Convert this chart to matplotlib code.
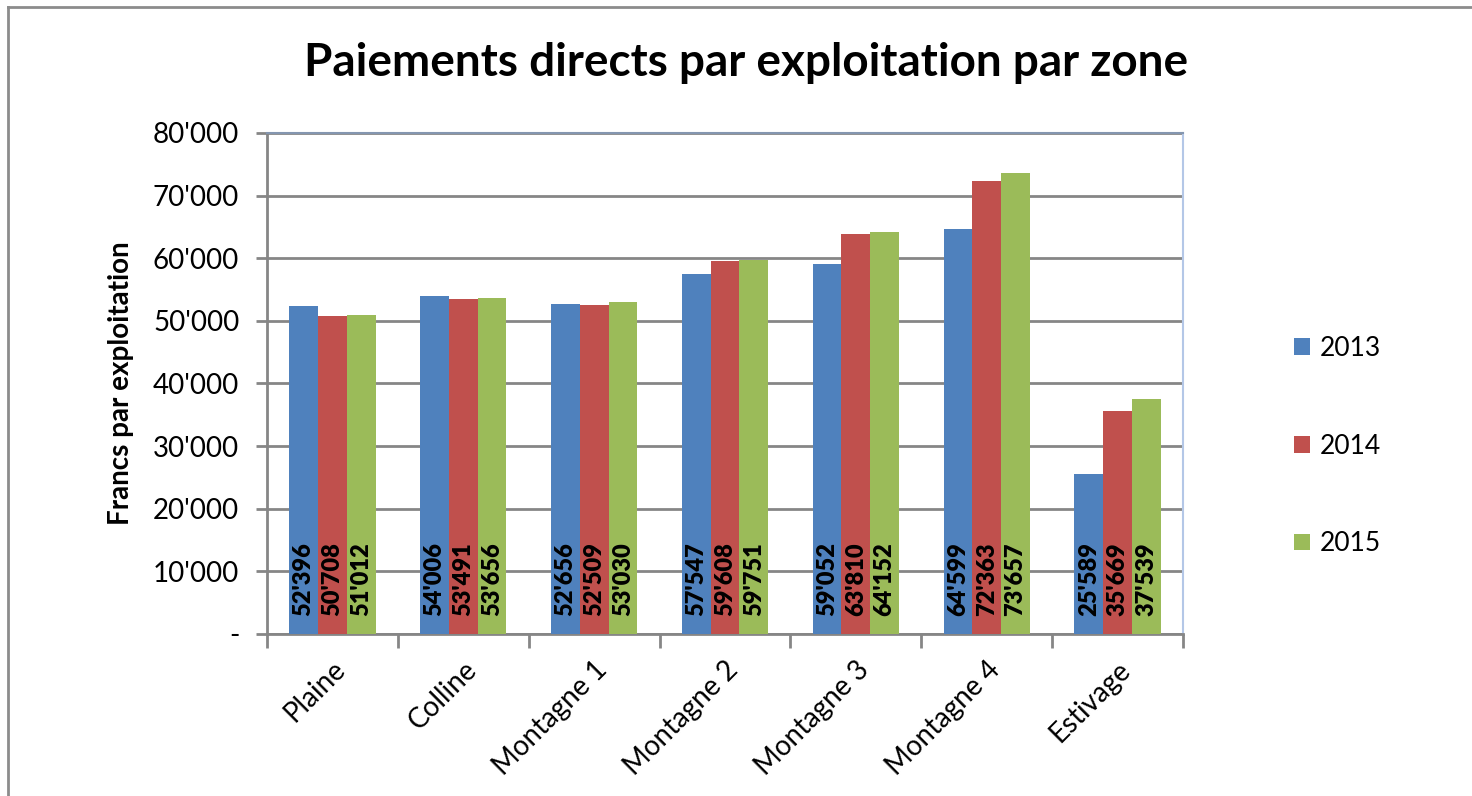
from matplotlib import pyplot as plt
from matplotlib.lines import Line2D
from matplotlib.ticker import FuncFormatter
import numpy as np

zones = ['Plaine', 'Colline', 'Montagne 1', 'Montagne 2', 'Montagne 3', 'Montagne 4', 'Estivage']
years = ['2013', '2014', '2015']
v2013 = [52396, 54006, 52656, 57547, 59052, 64599, 25589]
v2014 = [50708, 53491, 52509, 59608, 63810, 72363, 35669]
v2015 = [51012, 53656, 53030, 59751, 64152, 73657, 37539]
colors = ['#4F81BD', '#C0504D', '#9BBB59']

plt.rcParams['font.family'] = ['Lato', 'DejaVu Sans']

W, H = 1472, 796
fig = plt.figure(figsize=(W / 100, H / 100), dpi=100)
ax = fig.add_axes([267 / W, 1 - 634 / H, (1183 - 267) / W, (634 - 133) / H])

# outer chart frame (top + left only visible)
fig.add_artist(Line2D([8 / W, 8 / W], [0, 1 - 7 / H], color='#8c8c8c', lw=2, transform=fig.transFigure))
fig.add_artist(Line2D([8 / W, 1], [1 - 7 / H, 1 - 7 / H], color='#8c8c8c', lw=2, transform=fig.transFigure))

x = np.arange(len(zones))
bw = 0.22
for i, (vals, c, lab) in enumerate(zip([v2013, v2014, v2015], colors, years)):
    bars = ax.bar(x + (i - 1) * bw, vals, bw, color=c, label=lab, zorder=3)
    for b, v in zip(bars, vals):
        s = f"{v:,}".replace(',', "'")
        ax.text(b.get_x() + b.get_width() / 2, 2800, s, rotation=90, ha='center', va='bottom',
                fontsize=17, fontweight='heavy', color='black', zorder=4)

ax.set_xlim(-0.5, len(zones) - 0.5)
ax.set_ylim(0, 80000)
ax.set_yticks(np.arange(0, 80001, 10000))
ax.yaxis.set_major_formatter(FuncFormatter(lambda v, p: '-' if v == 0 else f"{int(v):,}".replace(',', "'")))
ax.grid(axis='y', color='#868686', lw=2, zorder=1)

ax.set_xticks(x)
ax.set_xticklabels(zones, rotation=45, ha='right', rotation_mode='anchor', fontsize=20)
ax.set_xticks(np.arange(-0.5, len(zones), 1), minor=True)
ax.tick_params(axis='x', which='major', length=0, pad=16)
ax.tick_params(axis='x', which='minor', length=10, width=2, color='#868686')
ax.tick_params(axis='y', length=8, width=2, color='#868686', labelsize=20, pad=12)

for s in ['left', 'bottom']:
    ax.spines[s].set_color('#868686')
    ax.spines[s].set_linewidth(2)
ax.spines['top'].set_color('#8496b0')
ax.spines['top'].set_linewidth(1.5)
ax.spines['right'].set_color('#b4c7e7')
ax.spines['right'].set_linewidth(1.5)

ax.set_ylabel('Francs par exploitation', fontsize=20, fontweight='bold', labelpad=14)
fig.text(746 / W, 1 - 63 / H, 'Paiements directs par exploitation par zone', ha='center', va='center',
         fontsize=33, fontweight='bold')

leg = ax.legend(loc='center left', bbox_to_anchor=(1.095, 0.375), frameon=False, fontsize=19,
                handlelength=0.6, handleheight=0.6, handletextpad=0.4, labelspacing=2.75)

fig.savefig('out.png', dpi=100)
